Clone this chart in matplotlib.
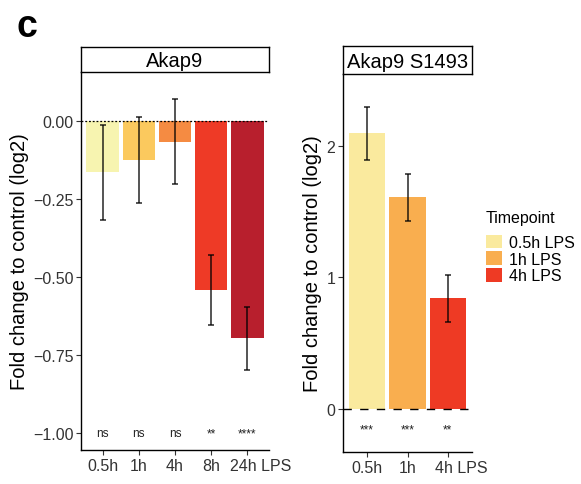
import matplotlib
matplotlib.use("Agg")
import matplotlib.pyplot as plt
import matplotlib.transforms as mtransforms
from matplotlib.patches import Patch

plt.rcParams["font.family"] = ["Liberation Sans", "DejaVu Sans"]

# left panel: Akap9 total
left_labels = ["0.5h", "1h", "4h", "8h", "24h LPS"]
left_vals = [-0.165, -0.125, -0.067, -0.541, -0.696]
left_err = [0.153, 0.137, 0.136, 0.113, 0.100]
left_sig = ["ns", "ns", "ns", "**", "****"]
left_colors = ["#F7F4B0", "#FBC95E", "#F58B42", "#EE3A26", "#B81F2D"]

# right panel: Akap9 S1493
right_labels = ["0.5h", "1h", "4h LPS"]
right_vals = [2.099, 1.613, 0.842]
right_err = [0.200, 0.180, 0.180]
right_sig = ["***", "***", "**"]
right_colors = ["#FAEA9E", "#F9AE4F", "#EE3A24"]
legend_labels = ["0.5h LPS", "1h LPS", "4h LPS"]

W, H = 581, 485
fig = plt.figure(figsize=(W / 100, H / 100), dpi=100)

def px_axes(x0, y0, x1, y1):
    # pixel box (from top-left) -> figure axes
    return fig.add_axes([x0 / W, (H - y1) / H, (x1 - x0) / W, (y1 - y0) / H])

def style_axes(ax):
    for s in ["top", "right"]:
        ax.spines[s].set_visible(False)
    for s in ["left", "bottom"]:
        ax.spines[s].set_linewidth(1.0)
    ax.tick_params(length=3.5, width=0.8, colors="#333333", labelsize=11.5, pad=2)

def strip(x0, y0, x1, y1, title):
    s = px_axes(x0, y0, x1, y1)
    s.set_xticks([])
    s.set_yticks([])
    for sp in s.spines.values():
        sp.set_linewidth(1.0)
    s.text(0.5, 0.45, title, ha="center", va="center", fontsize=14.5,
           transform=s.transAxes, clip_on=False)

def shift_last_label(ax, dx_px):
    lab = ax.get_xticklabels()[-1]
    lab.set_ha("left")
    lab.set_transform(lab.get_transform() + mtransforms.ScaledTranslation(dx_px / 100, 0, fig.dpi_scale_trans))

# ---- left
ax1 = px_axes(81, 73, 269, 451)
x1 = list(range(1, len(left_vals) + 1))
ax1.bar(x1, left_vals, width=0.9, color=left_colors)
ax1.errorbar(x1, left_vals, yerr=left_err, fmt="none", ecolor="black",
             elinewidth=1.1, capsize=2, capthick=1.1, alpha=0.85)
ax1.axhline(0, color="black", linestyle=(0, (1.5, 1.5)), linewidth=0.9)
for xi, s in zip(x1, left_sig):
    ax1.text(xi, -1.0, s, ha="center", va="center", fontsize=8.5, color="#222222")
ax1.set_xlim(0.4, 5.6)
ax1.set_ylim(-1.053, 0.156)
yt = [0.0, -0.25, -0.5, -0.75, -1.0]
ax1.set_yticks(yt)
ax1.set_yticklabels([f"{v:.2f}".replace("-", "\u2212") for v in yt])
ax1.set_xticks(x1)
ax1.set_xticklabels(left_labels)
style_axes(ax1)
ax1.set_ylabel("Fold change to control (log2)", fontsize=14.5, labelpad=3)
shift_last_label(ax1, -17)
strip(81, 48, 269, 73, "Akap9")

# ---- right
ax2 = px_axes(343, 75, 472, 453)
x2 = list(range(1, len(right_vals) + 1))
ax2.bar(x2, right_vals, width=0.9, color=right_colors)
ax2.errorbar(x2, right_vals, yerr=right_err, fmt="none", ecolor="black",
             elinewidth=1.1, capsize=2, capthick=1.1, alpha=0.85)
ax2.axhline(0, color="black", linestyle=(0, (6, 6)), linewidth=1.0)
for xi, s in zip(x2, right_sig):
    ax2.text(xi, -0.16, s, ha="center", va="center", fontsize=8.5, color="#222222")
ax2.set_xlim(0.4, 3.6)
ax2.set_ylim(-0.331, 2.552)
ax2.set_yticks([0, 1, 2])
ax2.set_xticks(x2)
ax2.set_xticklabels(right_labels)
style_axes(ax2)
ax2.set_ylabel("Fold change to control (log2)", fontsize=14.5, labelpad=3)
shift_last_label(ax2, -13)
strip(343, 47, 472, 75, "Akap9 S1493")

# legend
handles = [Patch(facecolor=c, edgecolor="none") for c in right_colors]
leg = fig.legend(handles, legend_labels, title="Timepoint", loc="upper left",
                 bbox_to_anchor=(486 / W, (H - 211) / H), frameon=False,
                 fontsize=11.5, title_fontsize=11.5, handlelength=1.0, handleheight=0.95,
                 labelspacing=0.08, handletextpad=0.45, borderaxespad=0, borderpad=0)
leg._legend_box.align = "left"
leg._legend_box.sep = 7

fig.text(16 / W, (H - 37) / H, "c", fontsize=27, fontweight="bold")

fig.savefig("out.png", dpi=100)
